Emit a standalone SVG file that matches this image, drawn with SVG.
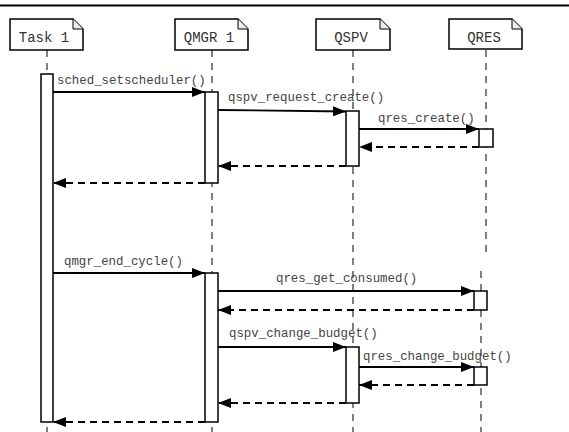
<svg xmlns="http://www.w3.org/2000/svg" width="569" height="432" viewBox="0 0 569 432">
<style>
.note{fill:#fff;stroke:#000;stroke-width:1.5}
.fold{fill:#eee;stroke:#000;stroke-width:1}
.name{font-family:"Liberation Mono","DejaVu Sans Mono",monospace;font-size:14px;fill:#333;text-anchor:middle}
.life{stroke:#000;stroke-width:1;stroke-dasharray:7,6;fill:none}
.act{fill:#fff;stroke:#000;stroke-width:1.5}
.msg{stroke:#000;stroke-width:1.8;fill:none;marker-end:url(#ah)}
.ret{stroke:#000;stroke-width:1.8;fill:none;stroke-dasharray:7,5;marker-end:url(#ah)}
.lbl{font-family:"Liberation Mono","DejaVu Sans Mono",monospace;font-size:12.4px;fill:#444}
</style>
<defs>
<marker id="ah" markerWidth="14" markerHeight="10" refX="13" refY="5" orient="auto" markerUnits="userSpaceOnUse">
<path d="M0,0 L13,5 L0,10 Z" fill="#000"/>
</marker>
</defs>
<rect width="569" height="432" fill="#fff"/>
<line x1="0" y1="5.5" x2="569" y2="5.5" stroke="#000" stroke-width="2"/>
<g id="lifelines">
<line class="life" x1="47" y1="50" x2="47" y2="432"/>
<line class="life" x1="212" y1="50" x2="212" y2="432"/>
<line class="life" x1="353" y1="50" x2="353" y2="432"/>
<line class="life" x1="486" y1="50" x2="486" y2="257"/>
<line class="life" x1="481" y1="271" x2="481" y2="432"/>
</g>
<g id="task1">
<path class="note" d="M10,19 H73 L83,29 V50 H10 Z"/>
<path class="fold" d="M73,19 V29 H83"/>
<text class="name" x="44" y="42">Task 1</text>
</g>
<g id="qmgr1">
<path class="note" d="M175,19 H238 L248,29 V50 H175 Z"/>
<path class="fold" d="M238,19 V29 H248"/>
<text class="name" x="209" y="42">QMGR 1</text>
</g>
<g id="qspv">
<path class="note" d="M316,19 H380 L390,29 V50 H316 Z"/>
<path class="fold" d="M380,19 V29 H390"/>
<text class="name" x="351" y="42">QSPV</text>
</g>
<g id="qres">
<path class="note" d="M449,19 H512 L522,29 V49 H449 Z"/>
<path class="fold" d="M512,19 V29 H522"/>
<text class="name" x="484" y="42">QRES</text>
</g>
<g id="activations">
<rect class="act" x="41" y="74" width="12" height="348"/>
<rect class="act" x="205" y="92" width="13" height="91"/>
<rect class="act" x="346" y="111" width="13" height="55"/>
<rect class="act" x="479" y="129" width="14" height="18"/>
<rect class="act" x="205" y="273" width="13" height="149"/>
<rect class="act" x="474" y="291" width="13" height="19"/>
<rect class="act" x="346" y="347" width="13" height="56"/>
<rect class="act" x="474" y="367" width="13" height="18"/>
</g>
<g id="connectors">
<line class="msg" x1="53" y1="92" x2="205" y2="92"/>
<text class="lbl" x="57" y="84">sched_setscheduler()</text>
<line class="msg" x1="218" y1="110" x2="346" y2="111.5"/>
<text class="lbl" x="228" y="101">qspv_request_create()</text>
<line class="msg" x1="359" y1="129" x2="479" y2="129"/>
<text class="lbl" x="378" y="122">qres_create()</text>
<line class="ret" x1="479" y1="147" x2="359" y2="147"/>
<line class="ret" x1="346" y1="166" x2="218" y2="166"/>
<line class="ret" x1="205" y1="183" x2="53" y2="183"/>
<line class="msg" x1="53" y1="273" x2="205" y2="273"/>
<text class="lbl" x="64" y="265">qmgr_end_cycle()</text>
<line class="msg" x1="218" y1="291" x2="474" y2="291"/>
<text class="lbl" x="276" y="282">qres_get_consumed()</text>
<line class="ret" x1="474" y1="310" x2="218" y2="310"/>
<line class="msg" x1="218" y1="347" x2="346" y2="347"/>
<text class="lbl" x="229" y="337">qspv_change_budget()</text>
<line class="msg" x1="359" y1="367" x2="474" y2="367"/>
<text class="lbl" x="363" y="360">qres_change_budget()</text>
<line class="ret" x1="474" y1="385" x2="359" y2="385"/>
<line class="ret" x1="346" y1="403" x2="218" y2="403"/>
<line class="ret" x1="205" y1="422" x2="53" y2="422"/>
</g>
</svg>
